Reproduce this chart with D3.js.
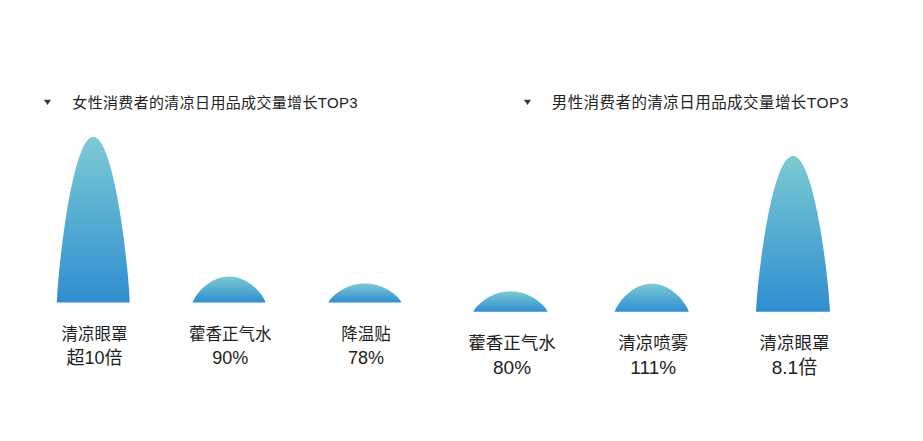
<!DOCTYPE html>
<html>
<head>
<meta charset="utf-8">
<script src="https://cdn.jsdelivr.net/npm/d3@7"></script>
<style>
  html, body { margin: 0; padding: 0; background: #ffffff; }
  svg { display: block; }
</style>
</head>
<body>
<svg id="chart" width="923" height="441"></svg>
<script>
// ---------- data ----------
const femaleTitle = "女性消费者的清凉日用品成交量增长TOP3";
const femaleItems = ["清凉眼罩", "藿香正气水", "降温贴"];
const femaleGrowthLabels = ["超10倍", "90%", "78%"];
// relative bar heights (tallest female bar = 100)
const femaleBarValues = [100, 15.7, 11.5];

const maleTitle = "男性消费者的清凉日用品成交量增长TOP3";
const maleItems = ["藿香正气水", "清凉喷雾", "清凉眼罩"];
const maleGrowthLabels = ["80%", "111%", "8.1倍"];
const maleBarValues = [12.3, 16.9, 94.1];

// ---------- layout ----------
const svg = d3.select("#chart");
const FONT = "'Liberation Sans', 'Noto Sans CJK SC', sans-serif";

const defs = svg.append("defs");
const grad = defs.append("linearGradient")
  .attr("id", "barGrad")
  .attr("x1", 0).attr("y1", 0).attr("x2", 0).attr("y2", 1);
grad.append("stop").attr("offset", "0%").attr("stop-color", "#7ccad3");
grad.append("stop").attr("offset", "100%").attr("stop-color", "#2f8ed0");

const panels = [
  {
    title: femaleTitle, items: femaleItems, labels: femaleGrowthLabels, values: femaleBarValues,
    xRange: [25.4, 432.8], baseline: 302.5, barWidth: 73, maxPx: 165.5,
    labelSize: 16.5, valueSize: 18, nameY: 334, valueY: 357.5, labelDx: 1.2,
    titleX: 72.3, titleLen: 285.4, titleSize: 15, triX: 47.5, titleY: 102.3
  },
  {
    title: maleTitle, items: maleItems, labels: maleGrowthLabels, values: maleBarValues,
    xRange: [439.9, 863.6], baseline: 311.7, barWidth: 74, maxPx: 165.5,
    labelSize: 17.5, valueSize: 19, nameY: 343.3, valueY: 367.5, labelDx: 1.5,
    titleX: 551.7, titleLen: 296.6, titleSize: 15.5, triX: 527.5, titleY: 102.3
  }
];

// dome shape: y = h * (1 - u^2)^q, u in [-1, 1]
const Q = 0.8;
const N = 80;
const line = d3.line().curve(d3.curveLinear);

function domePath(cx, w, base, h) {
  const pts = [];
  for (let i = 0; i <= N; i++) {
    const u = -1 + 2 * i / N;
    const yy = h * Math.pow(Math.max(0, 1 - u * u), Q);
    pts.push([cx + u * w / 2, base - yy]);
  }
  return line(pts) + "Z";
}

panels.forEach(p => {
  const g = svg.append("g");

  const x = d3.scalePoint()
    .domain(p.items)
    .range(p.xRange)
    .padding(0.5);

  const y = d3.scaleLinear()
    .domain([0, 100])
    .range([p.baseline, p.baseline - p.maxPx]);

  // title
  g.append("path")
    .attr("d", "M-3.6,-2.6L3.6,-2.6L0,2.6Z")
    .attr("transform", `translate(${p.triX},${p.titleY})`)
    .attr("fill", "#3a3a3a");

  g.append("text")
    .attr("x", p.titleX)
    .attr("y", p.titleY)
    .attr("dominant-baseline", "central")
    .attr("font-family", FONT)
    .attr("font-size", p.titleSize)
    .attr("fill", "#222")
    .attr("textLength", p.titleLen)
    .attr("lengthAdjust", "spacing")
    .text(p.title);

  // bars
  g.selectAll("path.bar")
    .data(p.items.map((d, i) => ({ item: d, value: p.values[i], label: p.labels[i] })))
    .join("path")
    .attr("class", "bar")
    .attr("d", d => domePath(x(d.item), p.barWidth, y(0), y(0) - y(d.value)))
    .attr("fill", "url(#barGrad)");

  // labels
  const lab = g.selectAll("g.lab")
    .data(p.items.map((d, i) => ({ item: d, label: p.labels[i] })))
    .join("g")
    .attr("class", "lab");

  lab.append("text")
    .attr("x", d => x(d.item) + p.labelDx)
    .attr("y", p.nameY)
    .attr("text-anchor", "middle")
    .attr("dominant-baseline", "central")
    .attr("font-family", FONT)
    .attr("font-size", p.labelSize)
    .attr("fill", "#1e1e1e")
    .text(d => d.item);

  lab.append("text")
    .attr("x", d => x(d.item) + p.labelDx)
    .attr("y", p.valueY)
    .attr("text-anchor", "middle")
    .attr("dominant-baseline", "central")
    .attr("font-family", FONT)
    .attr("font-size", p.valueSize)
    .attr("fill", "#1e1e1e")
    .text(d => d.label);
});
</script>
</body>
</html>
